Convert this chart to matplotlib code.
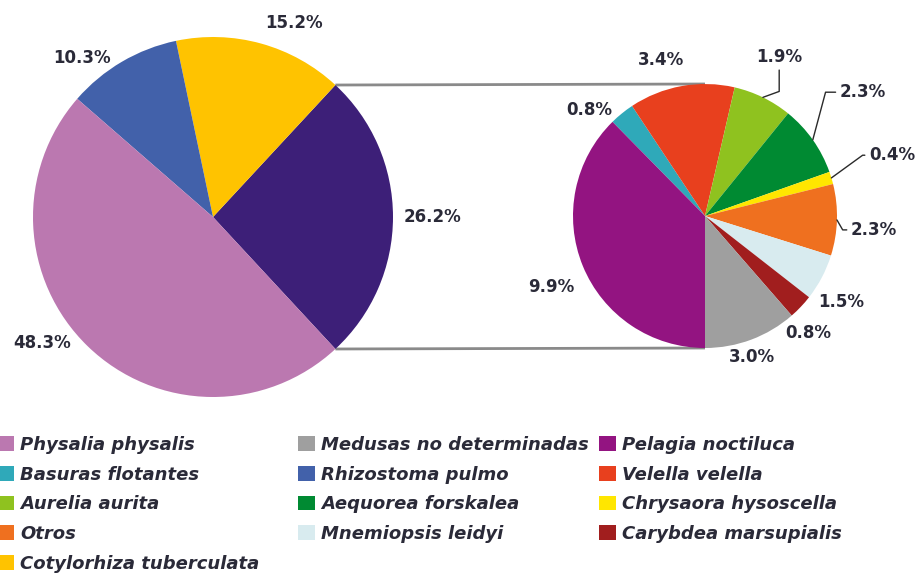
import matplotlib
matplotlib.use("Agg")
import matplotlib.pyplot as plt
from matplotlib.patches import Patch
import numpy as np

# ---------------- data ----------------
main_names = ["Resto de especies", "Cotylorhiza tuberculata", "Rhizostoma pulmo", "Physalia physalis"]
main_values = [26.2, 15.2, 10.3, 48.3]
main_labels = ["26.2%", "15.2%", "10.3%", "48.3%"]

sec_names = ["Basuras flotantes", "Velella velella", "Aurelia aurita", "Aequorea forskalea",
             "Chrysaora hysoscella", "Otros", "Mnemiopsis leidyi", "Carybdea marsupialis",
             "Medusas no determinadas", "Pelagia noctiluca"]
sec_values = [0.8, 3.4, 1.9, 2.3, 0.4, 2.3, 1.5, 0.8, 3.0, 9.9]
sec_labels = ["0.8%", "3.4%", "1.9%", "2.3%", "0.4%", "2.3%", "1.5%", "0.8%", "3.0%", "9.9%"]

legend_columns = [
    ["Physalia physalis", "Basuras flotantes", "Aurelia aurita", "Otros", "Cotylorhiza tuberculata"],
    ["Medusas no determinadas", "Rhizostoma pulmo", "Aequorea forskalea", "Mnemiopsis leidyi"],
    ["Pelagia noctiluca", "Velella velella", "Chrysaora hysoscella", "Carybdea marsupialis"],
]

# ---------------- style ----------------
colors = {
    "Resto de especies": "#3d1f78",
    "Cotylorhiza tuberculata": "#ffc300",
    "Rhizostoma pulmo": "#4261aa",
    "Physalia physalis": "#bb78b0",
    "Basuras flotantes": "#2fa9b9",
    "Velella velella": "#e8401e",
    "Aurelia aurita": "#8fc21f",
    "Aequorea forskalea": "#008a32",
    "Chrysaora hysoscella": "#ffe600",
    "Otros": "#ef701f",
    "Mnemiopsis leidyi": "#d8ebef",
    "Carybdea marsupialis": "#a11e1e",
    "Medusas no determinadas": "#9f9f9f",
    "Pelagia noctiluca": "#931481",
}
text_color = "#2a2a38"
pct_size = 12

W, H = 922, 575
fig = plt.figure(figsize=(W / 100, H / 100), dpi=100)
ax = fig.add_axes([0, 0, 1, 1])

# layout (pixel coords, y measured from top)
c1 = (213, 217); r1 = 180
c2 = (705, 216); r2 = 132
C1 = (c1[0], H - c1[1]); C2 = (c2[0], H - c2[1])

# main pie: "rest" wedge centred on the right
start1 = -360 * main_values[0] / sum(main_values) / 2
w1, _ = ax.pie(main_values, colors=[colors[n] for n in main_names], startangle=start1,
               counterclock=True, radius=r1, center=C1, wedgeprops=dict(linewidth=0))

# secondary pie, clockwise, last wedge (Pelagia) starting at the bottom
start2 = -90 + 360 * sum(sec_values[:-1]) / sum(sec_values)
w2, _ = ax.pie(sec_values, colors=[colors[n] for n in sec_names], startangle=start2,
               counterclock=False, radius=r2, center=C2, wedgeprops=dict(linewidth=0))

# connector lines from the "rest" wedge to the secondary pie
rest = w1[0]
for ang, sgn in ((rest.theta2, 1), (rest.theta1, -1)):
    x0 = C1[0] + r1 * np.cos(np.radians(ang))
    y0 = C1[1] + r1 * np.sin(np.radians(ang))
    ax.plot([x0, C2[0]], [y0, C2[1] + sgn * r2], color="#8a8a8a", lw=2, zorder=0,
            solid_capstyle="butt")

# main labels
lab_ang1 = [0, 67.3, 129.5, 216.4]
lab_dist1 = [1.217, 1.168, 1.145, 1.18]
for s, a, d in zip(main_labels, lab_ang1, lab_dist1):
    ax.text(C1[0] + d * r1 * np.cos(np.radians(a)), C1[1] + d * r1 * np.sin(np.radians(a)), s,
            ha="center", va="center", fontsize=pct_size, fontweight="bold", color=text_color)

# secondary labels
lab_ang2 = [137.6, 105.7, 65, 38.1, 18, -4.7, -32.3, -48.6, -71.6, 204.9]
lab_dist2 = [1.19, 1.23, 1.33, 1.52, 1.49, 1.285, 1.22, 1.18, 1.126, 1.28]
leader = {2: (90, 20), 3: (0, 75), 4: (0, 36), 5: (0, -60)}
for i, (wd, s, a, d) in enumerate(zip(w2, sec_labels, lab_ang2, lab_dist2)):
    tx = C2[0] + d * r2 * np.cos(np.radians(a))
    ty = C2[1] + d * r2 * np.sin(np.radians(a))
    if i in leader:
        mid = np.radians((wd.theta1 + wd.theta2) / 2)
        ex = C2[0] + r2 * np.cos(mid)
        ey = C2[1] + r2 * np.sin(mid)
        aA, aB = leader[i]
        ax.annotate(s, xy=(ex, ey), xytext=(tx, ty), ha="center", va="center",
                    fontsize=pct_size, fontweight="bold", color=text_color,
                    arrowprops=dict(arrowstyle="-", color="#2a2a2a", lw=1.0,
                                    shrinkA=1, shrinkB=0,
                                    connectionstyle=f"angle,angleA={aA},angleB={aB},rad=0"))
    else:
        ax.text(tx, ty, s, ha="center", va="center", fontsize=pct_size, fontweight="bold",
                color=text_color)

ax.set_xlim(0, W)
ax.set_ylim(0, H)
ax.set_aspect("equal")
ax.axis("off")

# legend: three columns placed independently
col_x = [-3, 298, 599]
top = 436
for cx, names in zip(col_x, legend_columns):
    handles = [Patch(facecolor=colors[n], edgecolor="none") for n in names]
    fig.legend(handles=handles, labels=names, loc="upper left",
               bbox_to_anchor=(cx / W, 1 - top / H), frameon=False,
               borderpad=0, borderaxespad=0, handlelength=0.92, handleheight=0.88,
               handletextpad=0.35, labelspacing=0.645, labelcolor=text_color,
               prop=dict(family="DejaVu Sans", weight="bold", style="italic", size=13))

fig.savefig("out.png", dpi=100)
